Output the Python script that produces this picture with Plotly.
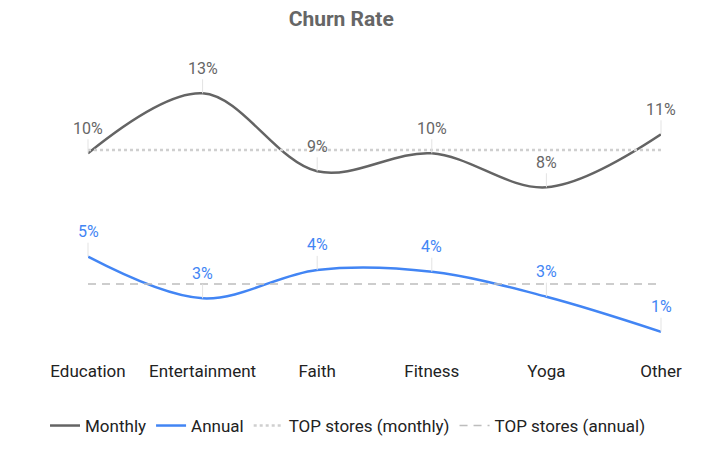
import plotly.graph_objects as go

# categories and series (percent)
categories = ['Education', 'Entertainment', 'Faith', 'Fitness', 'Yoga', 'Other']
monthly = [10.0, 13.0, 9.1, 10.0, 8.3, 10.95]
annual = [4.83, 2.75, 4.17, 4.08, 2.83, 1.08]
top_monthly = [10.17, 10.17, 10.17, 10.17, 10.17, 10.17]
top_annual = [3.47, 3.47, 3.47, 3.47, 3.47, 3.47]

GREY = '#646464'
BLUE = '#4285F4'

fig = go.Figure()

fig.add_trace(go.Scatter(
    x=categories, y=monthly, name='Monthly', mode='lines',
    line=dict(color=GREY, width=2.5, shape='spline'), cliponaxis=False
))
fig.add_trace(go.Scatter(
    x=categories, y=annual, name='Annual', mode='lines',
    line=dict(color=BLUE, width=2.5, shape='spline'), cliponaxis=False
))
fig.add_trace(go.Scatter(
    x=categories, y=top_monthly, name='TOP stores (monthly)', mode='lines',
    line=dict(color='#cfcfcf', width=2.5, dash='dot')
))
fig.add_trace(go.Scatter(
    x=categories, y=top_annual, name='TOP stores (annual)', mode='lines',
    line=dict(color='#bdbdbd', width=1.5, dash='8px,6px')
))

# value labels with little stems
for vals, col in [(monthly, '#666666'), (annual, BLUE)]:
    for c, v in zip(categories, vals):
        fig.add_annotation(
            x=c, y=v, text=f"{round(v)}%", showarrow=True,
            ax=0, ay=-25, arrowhead=0, arrowwidth=1, arrowcolor='#e3e3e3',
            standoff=0, font=dict(size=16, color=col)
        )

# page body has an 8px margin, so everything is placed 8px up/left
fig.update_layout(
    width=712, height=454,
    margin=dict(l=80, r=59, t=52, b=103),
    paper_bgcolor='white', plot_bgcolor='white',
    font=dict(family='Roboto, Arial, sans-serif', color='#222222'),
    title=dict(text='<b>Churn Rate</b>', x=0.468, xanchor='center', y=0.976, yanchor='middle',
               font=dict(size=21, color='#666666')),
    showlegend=True,
    legend=dict(orientation='h', x=-0.075, xanchor='left', y=-0.224, yanchor='middle',
                font=dict(size=17, color='#222222'), itemwidth=30, tracegroupgap=0),
    xaxis=dict(range=[0, 5], showgrid=False, zeroline=False, showline=False,
               ticks='', tickfont=dict(size=17, color='#222222')),
    yaxis=dict(range=[-0.285, 14.665], visible=False, showgrid=False),
)

fig.write_html("out.html")
